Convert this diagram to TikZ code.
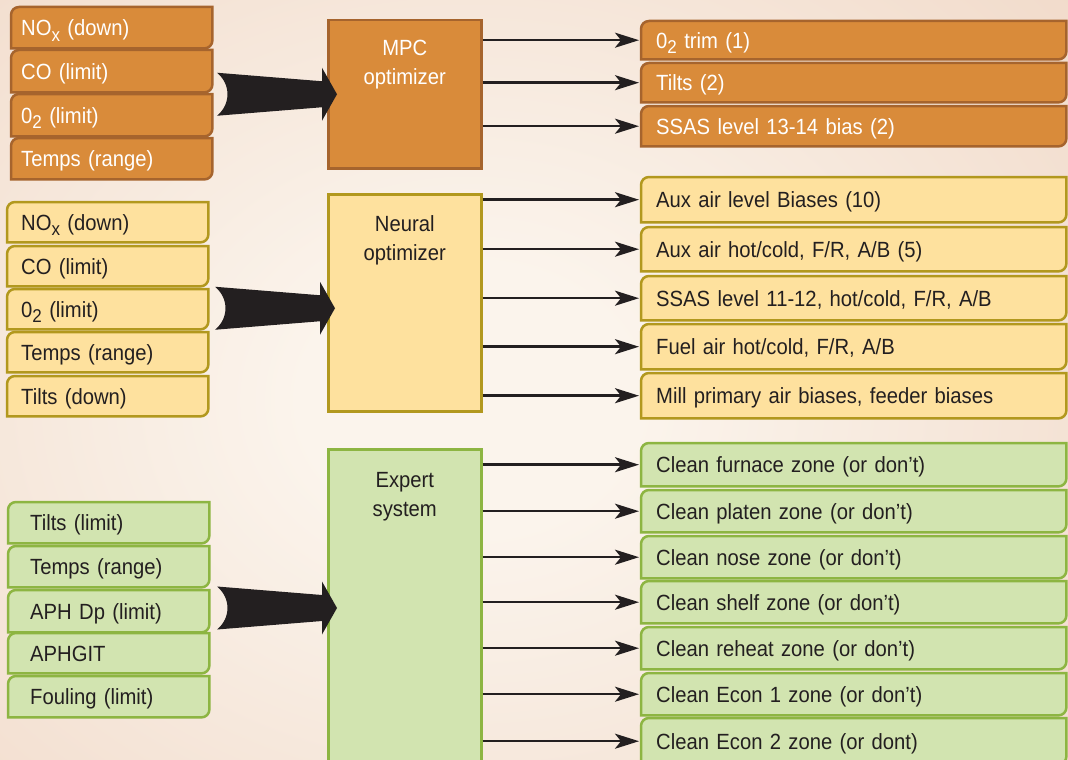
\documentclass[tikz,border=0pt]{standalone}
\usepackage{fontspec}
\setmainfont{Liberation Sans}[FakeStretch=0.92]
\usetikzlibrary{arrows.meta,calc}
\definecolor{orF}{RGB}{217,139,58}
\definecolor{orD}{RGB}{166,100,45}
\definecolor{yeF}{RGB}{254,225,158}
\definecolor{yeD}{RGB}{178,152,30}
\definecolor{grF}{RGB}{210,228,176}
\definecolor{grD}{RGB}{141,181,66}
\definecolor{ink}{RGB}{35,31,32}
\definecolor{bgin}{RGB}{251,244,236}
\definecolor{bgout}{RGB}{237,208,188}
\pgfdeclareradialshading{bgshade}{\pgfpoint{0bp}{0bp}}{color(0bp)=(bgin); color(6bp)=(bgin); color(38bp)=(bgout); color(50bp)=(bgout)}
\pgfdeclarelayer{canvas}
\pgfdeclarelayer{boxes}
\pgfsetlayers{canvas,boxes,main}
\newcommand\lowsub[1]{\raisebox{-5.5pt}{\fontsize{18.5}{18.5}\selectfont #1}}
\newcommand\tabshape[2]{%
  \filldraw[#1] (#2.south west) -- ([yshift=-8pt]#2.north west)
    arc[start angle=180,end angle=90,radius=8pt] -- (#2.north east)
    -- ([yshift=8pt]#2.south east) arc[start angle=0,end angle=-90,radius=8pt] -- cycle;}
\newcommand\fatarrow[1]{%
  \fill[ink] ($#1+(-120,21.5)$) .. controls ($#1+(-106,10)$) and ($#1+(-106,-10)$) .. ($#1+(-120,-21.5)$)
    -- ($#1+(-15,-13)$) -- ($#1+(-15,-26.5)$) -- #1 -- ($#1+(-15,26.5)$) -- ($#1+(-15,13)$) -- cycle;}
\tikzset{
  txt/.style={font=\fontsize{22}{29}\selectfont, text height=16pt, text depth=0pt,
    inner ysep=0pt, anchor=north west, align=left},
  inor/.style={txt, inner xsep=10pt, text width=181pt, text=white, minimum height=#1},
  inye/.style={txt, inner xsep=14pt, text width=173pt, text=ink, minimum height=#1},
  ingr/.style={txt, inner xsep=22pt, text width=157pt, text=ink, minimum height=#1},
  outor/.style={txt, inner xsep=15pt, text width=395pt, text=white, minimum height=#1},
  outye/.style={txt, inner xsep=15pt, text width=395pt, text=ink, minimum height=#1},
  outgr/.style={txt, inner xsep=15pt, text width=395pt, text=ink, minimum height=#1},
  tabor/.style={fill=orF, draw=orD, line width=2.5pt},
  tabye/.style={fill=yeF, draw=yeD, line width=2.5pt},
  tabgr/.style={fill=grF, draw=grD, line width=2.5pt},
  mid/.style={anchor=north west, minimum width=153pt, inner sep=0pt, line width=2.5pt},
  midlab/.style={font=\fontsize{22}{29}\selectfont, align=center, anchor=north, inner sep=0pt},
  conn/.style={draw=ink, line width=2.5pt, shorten >=2pt, -{Stealth[length=24pt,width=15pt,inset=6pt]}},
}
\begin{document}
\begin{tikzpicture}[x=1pt,y=1pt]
\useasboundingbox (0,0) rectangle (1068,-760);
\begin{pgfonlayer}{canvas}
  \clip (0,0) rectangle (1068,-760);
  \shade[shading=bgshade] (-230,160) rectangle (1170,-960);
\end{pgfonlayer}

% ---------- MPC group ----------
\node[inor=41pt] (a1) at (11,-7)   {NO\lowsub{x} (down)};
\node[inor=42pt] (a2) at (11,-50)  {CO (limit)};
\node[inor=42pt] (a3) at (11,-94)  {0\lowsub{2} (limit)};
\node[inor=41pt] (a4) at (11,-138) {Temps (range)};

\node[mid, fill=orF, draw=orD, minimum height=148pt] (mpc) at (327,-19) {};
\node[midlab, text=white] (mpct) at ([yshift=-21pt]mpc.north) {MPC\\optimizer};

\node[outor=38pt] (r1) at (641,-21)  {0\lowsub{2} trim (1)};
\node[outor=39pt] (r2) at (641,-63)  {Tilts (2)};
\node[outor=40pt] (r3) at (641,-106) {SSAS level 13-14 bias (2)};

% ---------- Neural group ----------
\node[inye=40pt] (b1) at (7,-202) {NO\lowsub{x} (down)};
\node[inye=40pt] (b2) at (7,-246) {CO (limit)};
\node[inye=40pt] (b3) at (7,-289) {0\lowsub{2} (limit)};
\node[inye=40pt] (b4) at (7,-332) {Temps (range)};
\node[inye=40pt] (b5) at (7,-376) {Tilts (down)};

\node[mid, fill=yeF, draw=yeD, minimum height=217pt] (neur) at (327,-193) {};
\node[midlab, text=ink] (neurt) at ([yshift=-22pt]neur.north) {Neural\\optimizer};

\node[outye=45pt] (s1) at (641,-177) {Aux air level Biases (10)};
\node[outye=44pt] (s2) at (641,-227) {Aux air hot/cold, F/R, A/B (5)};
\node[outye=44pt] (s3) at (641,-276) {SSAS level 11-12, hot/cold, F/R, A/B};
\node[outye=45pt] (s4) at (641,-324) {Fuel air hot/cold, F/R, A/B};
\node[outye=45pt] (s5) at (641,-373) {Mill primary air biases, feeder biases};

% ---------- Expert group ----------
\node[ingr=41pt] (c1) at (8,-502) {Tilts (limit)};
\node[ingr=41pt] (c2) at (8,-546) {Temps (range)};
\node[ingr=42pt] (c3) at (8,-590) {APH Dp (limit)};
\node[ingr=40pt] (c4) at (8,-633) {APHGIT};
\node[ingr=41pt] (c5) at (8,-676) {Fouling (limit)};

\node[mid, fill=grF, draw=grD, minimum height=330pt] (expt) at (327,-448) {};
\node[midlab, text=ink] (exptt) at ([yshift=-24pt]expt.north) {Expert\\system};

\node[outgr=43pt] (t1) at (641,-443) {Clean furnace zone (or don’t)};
\node[outgr=42pt] (t2) at (641,-490) {Clean platen zone (or don’t)};
\node[outgr=42pt] (t3) at (641,-536) {Clean nose zone (or don’t)};
\node[outgr=42pt] (t4) at (641,-581) {Clean shelf zone (or don’t)};
\node[outgr=42pt] (t5) at (641,-627) {Clean reheat zone (or don’t)};
\node[outgr=42pt] (t6) at (641,-673) {Clean Econ 1 zone (or don’t)};
\node[outgr=46pt] (t7) at (641,-718) {Clean Econ 2 zone (or dont)};

% ---------- tab shapes behind texts ----------
\begin{pgfonlayer}{boxes}
  \foreach \n in {a1,a2,a3,a4,r1,r2,r3} {\tabshape{tabor}{\n}}
  \foreach \n in {b1,b2,b3,b4,b5,s1,s2,s3,s4,s5} {\tabshape{tabye}{\n}}
  \foreach \n in {c1,c2,c3,c4,c5,t1,t2,t3,t4,t5,t6,t7} {\tabshape{tabgr}{\n}}
\end{pgfonlayer}

% ---------- fat arrows ----------
\coordinate (ftip1) at ([xshift=10pt]mpc.west);
\coordinate (ftip2) at ([xshift=8pt,yshift=-5.5pt]neur.west);
\coordinate (ftip3) at ([xshift=10pt,yshift=-160pt]expt.north west);
\fatarrow{(ftip1)}
\fatarrow{(ftip2)}
\fatarrow{(ftip3)}

% ---------- connectors ----------
\foreach \n in {r1,r2,r3} {\draw[conn] (mpc.east |- \n.west) -- (\n.west);}
\foreach \n in {s1,s2,s3,s4,s5} {\draw[conn] (neur.east |- \n.west) -- (\n.west);}
\foreach \n in {t1,t2,t3,t4,t5,t6,t7} {\draw[conn] (expt.east |- \n.west) -- (\n.west);}
\end{tikzpicture}
\end{document}
